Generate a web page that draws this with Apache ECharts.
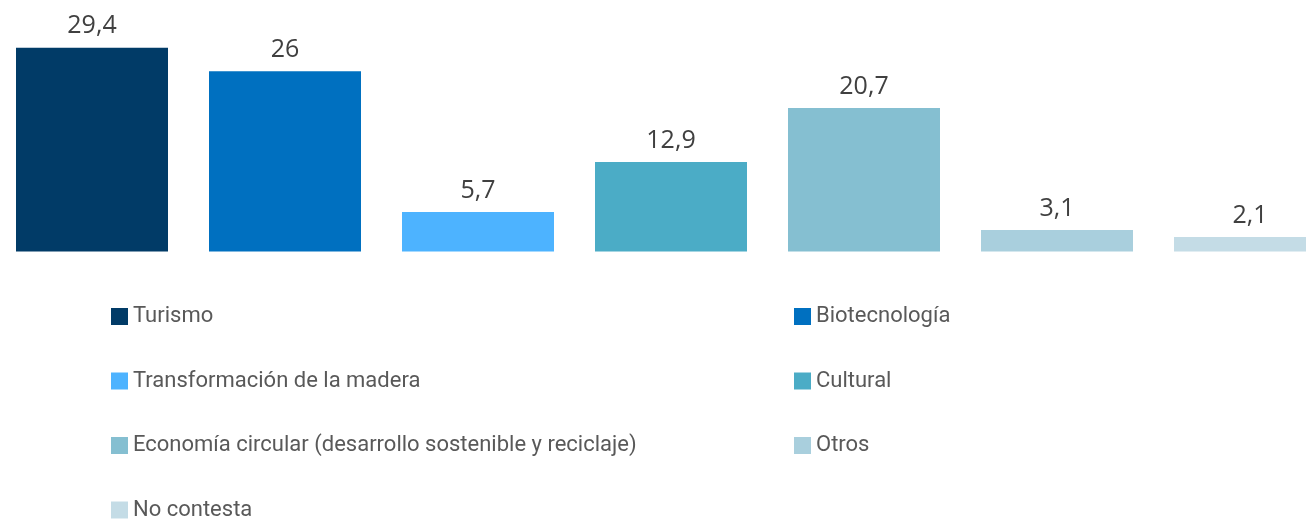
<!DOCTYPE html>
<html><head><meta charset="utf-8">
<script src="https://cdn.jsdelivr.net/npm/echarts@6/dist/echarts.min.js"></script>
<style>html,body{margin:0;padding:0;background:#fff}#c{width:1306px;height:521px}</style>
</head><body><div id="c"></div>
<script>
const categories = ["Turismo","Biotecnología","Transformación de la madera","Cultural","Economía circular (desarrollo sostenible y reciclaje)","Otros","No contesta"];
const values = [29.4, 26, 5.7, 12.9, 20.7, 3.1, 2.1];
const colors = ["#013B67","#0070C0","#4DB3FF","#4BACC6","#85BFD1","#A9CFDD","#C4DCE6"];
const legendCol1 = ["Turismo","Transformación de la madera","Economía circular (desarrollo sostenible y reciclaje)","No contesta"];
const legendCol2 = ["Biotecnología","Cultural","Otros"];

const series = categories.map((name, i) => ({
  name: name,
  type: 'bar',
  stack: 'all',
  barWidth: 152,
  itemStyle: {color: colors[i]},
  label: {
    show: true, position: 'top', distance: 9,
    color: '#404040', fontFamily: 'Open Sans', fontSize: 25,
    formatter: p => String(p.value).replace('.', ',')
  },
  data: categories.map((c, j) => j === i ? values[i] : '-')
}));

const legendText = {color: '#595959', fontFamily: 'Roboto', fontSize: 22, lineHeight: 30};
const chart = echarts.init(document.getElementById('c'), null, {renderer: 'canvas'});
chart.setOption({
  animation: false,
  grid: {left: -4.5, width: 1351, top: 43.6, height: 207.9, containLabel: false, outerBoundsMode: 'none'},
  xAxis: {type: 'category', data: categories, show: false},
  yAxis: {type: 'value', min: 0, max: 30, show: false},
  legend: [
    {data: legendCol1, orient: 'vertical', left: 111, top: 301.5, height: 260, itemWidth: 17, itemHeight: 17, itemGap: 34.5, icon: 'rect', textStyle: legendText, padding: 0},
    {data: legendCol2, orient: 'vertical', left: 794, top: 301.5, height: 260, itemWidth: 17, itemHeight: 17, itemGap: 34.5, icon: 'rect', textStyle: legendText, padding: 0}
  ],
  series: series
});
</script></body></html>
